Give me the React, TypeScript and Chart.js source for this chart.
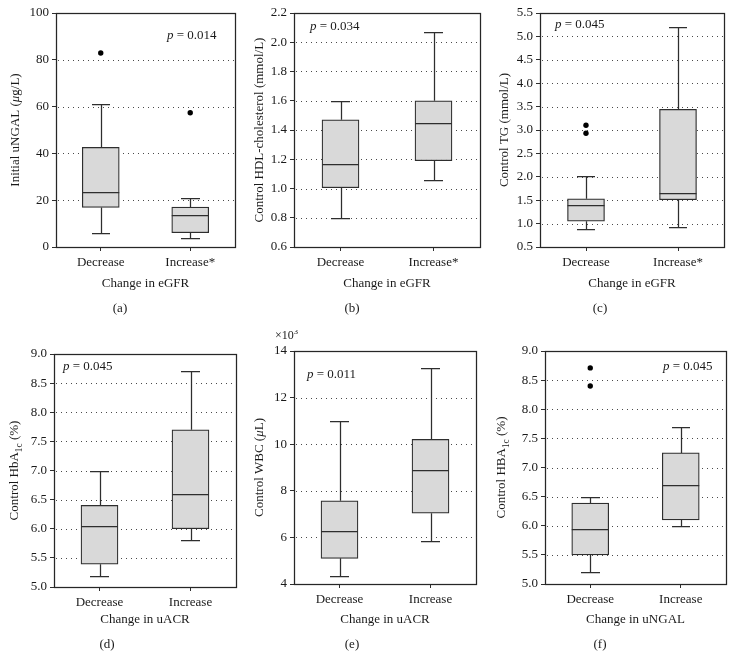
import React, { useEffect, useRef } from 'react';
import { Chart, registerables } from 'chart.js';

Chart.register(...registerables);

const FONT = "'Liberation Serif', 'Times New Roman', Times, serif";

// ---------- categories ----------
const eGFRGroups = ['Decrease', 'Increase*'];
const uACRGroups = ['Decrease', 'Increase'];
const uNGALGroups = ['Decrease', 'Increase'];

// ---------- (a) Initial uNGAL by change in eGFR ----------
const aLow = [6.0, 3.9];
const aQ1 = [16.9, 6.1];
const aMedian = [23.3, 13.7];
const aQ3 = [42.6, 17.1];
const aHigh = [61.0, 21.0];
const aOutGroup = ['Decrease', 'Increase*'];
const aOutValue = [82.9, 57.4];
const aAxis = [0, 100, 20];

// ---------- (b) Control HDL-cholesterol by change in eGFR ----------
const bLow = [0.8, 1.06];
const bQ1 = [1.005, 1.19];
const bMedian = [1.166, 1.445];
const bQ3 = [1.47, 1.6];
const bHigh = [1.6, 2.067];
const bOutGroup: string[] = [];
const bOutValue: number[] = [];
const bAxis = [0.6, 2.2, 0.2];

// ---------- (c) Control TG by change in eGFR ----------
const cLow = [0.88, 0.92];
const cQ1 = [1.05, 1.51];
const cMedian = [1.4, 1.65];
const cQ3 = [1.53, 3.44];
const cHigh = [2.02, 5.2];
const cOutGroup = ['Decrease', 'Decrease'];
const cOutValue = [2.93, 3.1];
const cAxis = [0.5, 5.5, 0.5];

// ---------- (d) Control HbA1c by change in uACR ----------
const dLow = [5.19, 5.8];
const dQ1 = [5.39, 6.0];
const dMedian = [6.05, 6.6];
const dQ3 = [6.4, 7.7];
const dHigh = [7.0, 8.7];
const dOutGroup: string[] = [];
const dOutValue: number[] = [];
const dAxis = [5.0, 9.0, 0.5];

// ---------- (e) Control WBC by change in uACR (x10^3) ----------
const eLow = [4.34, 5.85];
const eQ1 = [5.1, 7.04];
const eMedian = [6.29, 8.89];
const eQ3 = [7.57, 10.21];
const eHigh = [10.98, 13.26];
const eOutGroup: string[] = [];
const eOutValue: number[] = [];
const eAxis = [4, 14, 2];

// ---------- (f) Control HBA1c by change in uNGAL ----------
const fLow = [5.2, 6.0];
const fQ1 = [5.5, 6.1];
const fMedian = [5.95, 6.7];
const fQ3 = [6.39, 7.25];
const fHigh = [6.5, 7.7];
const fOutGroup = ['Decrease', 'Decrease'];
const fOutValue = [8.4, 8.71];
const fAxis = [5.0, 9.0, 0.5];

type Seg = { t: string; it?: boolean; sub?: boolean; sup?: boolean };

const panels = [
  {
    key: 'a', groups: eGFRGroups, low: aLow, q1: aQ1, med: aMedian, q3: aQ3, high: aHigh,
    outGroup: aOutGroup, outValue: aOutValue, axis: aAxis, dec: 0,
    yTitle: [{ t: 'Initial uNGAL (' }, { t: 'μ', it: true }, { t: 'g/L)' }] as Seg[],
    xTitle: 'Change in eGFR', tag: '(a)', p: '0.014',
    box: { left: 0, top: 0, w: 245, h: 330 }, area: { l: 56, t: 13, r: 235, b: 247 },
    pPos: { x: 167, y: 36 }, yTitleX: 16, xTitleY: 284, tagX: 120, tagY: 309,
  },
  {
    key: 'b', groups: eGFRGroups, low: bLow, q1: bQ1, med: bMedian, q3: bQ3, high: bHigh,
    outGroup: bOutGroup, outValue: bOutValue, axis: bAxis, dec: 1,
    yTitle: [{ t: 'Control HDL-cholesterol (mmol/L)' }] as Seg[],
    xTitle: 'Change in eGFR', tag: '(b)', p: '0.034',
    box: { left: 245, top: 0, w: 245, h: 330 }, area: { l: 49, t: 13, r: 235, b: 247 },
    pPos: { x: 65, y: 27 }, yTitleX: 15, xTitleY: 284, tagX: 107, tagY: 309,
  },
  {
    key: 'c', groups: eGFRGroups, low: cLow, q1: cQ1, med: cMedian, q3: cQ3, high: cHigh,
    outGroup: cOutGroup, outValue: cOutValue, axis: cAxis, dec: 1,
    yTitle: [{ t: 'Control TG (mmol/L)' }] as Seg[],
    xTitle: 'Change in eGFR', tag: '(c)', p: '0.045',
    box: { left: 490, top: 0, w: 245, h: 330 }, area: { l: 50, t: 13, r: 234, b: 247 },
    pPos: { x: 65, y: 25 }, yTitleX: 15, xTitleY: 284, tagX: 110, tagY: 309,
  },
  {
    key: 'd', groups: uACRGroups, low: dLow, q1: dQ1, med: dMedian, q3: dQ3, high: dHigh,
    outGroup: dOutGroup, outValue: dOutValue, axis: dAxis, dec: 1,
    yTitle: [{ t: 'Control HbA' }, { t: '1c', sub: true }, { t: ' (%)' }] as Seg[],
    xTitle: 'Change in uACR', tag: '(d)', p: '0.045',
    box: { left: 0, top: 330, w: 245, h: 341 }, area: { l: 54, t: 24, r: 236, b: 257 },
    pPos: { x: 63, y: 37 }, yTitleX: 15, xTitleY: 290, tagX: 107, tagY: 315,
  },
  {
    key: 'e', groups: uACRGroups, low: eLow, q1: eQ1, med: eMedian, q3: eQ3, high: eHigh,
    outGroup: eOutGroup, outValue: eOutValue, axis: eAxis, dec: 0,
    yTitle: [{ t: 'Control WBC (' }, { t: 'μ', it: true }, { t: 'L)' }] as Seg[],
    xTitle: 'Change in uACR', tag: '(e)', p: '0.011', exponent: '3',
    box: { left: 245, top: 330, w: 245, h: 341 }, area: { l: 49, t: 21, r: 231, b: 254 },
    pPos: { x: 62, y: 45 }, yTitleX: 15, xTitleY: 290, tagX: 107, tagY: 315,
  },
  {
    key: 'f', groups: uNGALGroups, low: fLow, q1: fQ1, med: fMedian, q3: fQ3, high: fHigh,
    outGroup: fOutGroup, outValue: fOutValue, axis: fAxis, dec: 1,
    yTitle: [{ t: 'Control HBA' }, { t: '1c', sub: true }, { t: ' (%)' }] as Seg[],
    xTitle: 'Change in uNGAL', tag: '(f)', p: '0.045',
    box: { left: 490, top: 330, w: 245, h: 341 }, area: { l: 55, t: 21, r: 236, b: 254 },
    pPos: { x: 173, y: 37 }, yTitleX: 12, xTitleY: 290, tagX: 110, tagY: 315,
  },
];

const TEXT = '#1a1a1a';
const LINE = '#2e2e2e';
const LW = 1.25;

function segFont(s: Seg, size: number) {
  const sz = s.sub || s.sup ? size * 0.72 : size;
  return `${s.it ? 'italic ' : ''}${sz}px ${FONT}`;
}

function drawSegs(ctx: CanvasRenderingContext2D, segs: Seg[], x: number, y: number, size: number, align: 'center' | 'left') {
  let total = 0;
  const widths = segs.map((s) => {
    ctx.font = segFont(s, size);
    const w = ctx.measureText(s.t).width;
    total += w;
    return w;
  });
  let cx = align === 'center' ? x - total / 2 : x;
  ctx.textAlign = 'left';
  ctx.textBaseline = 'middle';
  segs.forEach((s, i) => {
    ctx.font = segFont(s, size);
    const dy = s.sub ? size * 0.32 : s.sup ? -size * 0.38 : 0;
    ctx.fillText(s.t, cx, y + dy);
    cx += widths[i];
  });
}

const px = (v: number) => Math.round(v) + 0.5;

function makePlugin(cfg: any) {
  return {
    id: 'boxdeco',
    beforeDatasetsDraw(chart: any) {
      const { ctx, chartArea: a, scales } = chart;
      const y = scales.y;
      ctx.save();
      // dotted grid lines
      ctx.strokeStyle = '#4a4a4a';
      ctx.lineWidth = 1;
      ctx.setLineDash([1, 4]);
      y.ticks.forEach((t: any) => {
        if (t.value <= y.min + 1e-9 || t.value >= y.max - 1e-9) return;
        const py = px(y.getPixelForValue(t.value));
        ctx.beginPath();
        ctx.moveTo(a.left + 2, py);
        ctx.lineTo(a.right, py);
        ctx.stroke();
      });
      ctx.setLineDash([]);
      // whiskers
      const meta = chart.getDatasetMeta(0);
      ctx.strokeStyle = LINE;
      ctx.lineWidth = LW;
      meta.data.forEach((bar: any, i: number) => {
        const cx = px(bar.x);
        const half = bar.width / 4;
        const yHigh = px(y.getPixelForValue(cfg.high[i]));
        const yQ3 = y.getPixelForValue(cfg.q3[i]);
        const yLow = px(y.getPixelForValue(cfg.low[i]));
        const yQ1 = y.getPixelForValue(cfg.q1[i]);
        ctx.beginPath();
        ctx.moveTo(cx, yQ3);
        ctx.lineTo(cx, yHigh);
        ctx.moveTo(Math.round(bar.x - half), yHigh);
        ctx.lineTo(Math.round(bar.x + half), yHigh);
        ctx.moveTo(cx, yQ1);
        ctx.lineTo(cx, yLow);
        ctx.moveTo(Math.round(bar.x - half), yLow);
        ctx.lineTo(Math.round(bar.x + half), yLow);
        ctx.stroke();
      });
      ctx.restore();
    },
    afterDatasetsDraw(chart: any) {
      const { ctx, chartArea: a, scales } = chart;
      const y = scales.y;
      ctx.save();
      ctx.strokeStyle = LINE;
      ctx.lineWidth = LW;
      const meta = chart.getDatasetMeta(0);
      meta.data.forEach((bar: any, i: number) => {
        const ym = px(y.getPixelForValue(cfg.med[i]));
        ctx.beginPath();
        ctx.moveTo(bar.x - bar.width / 2, ym);
        ctx.lineTo(bar.x + bar.width / 2, ym);
        ctx.stroke();
      });
      // frame
      ctx.strokeStyle = '#262626';
      const l = px(a.left), t = px(a.top), r = px(a.right), b = px(a.bottom);
      ctx.strokeRect(l, t, r - l, b - t);
      ctx.restore();
    },
    afterDraw(chart: any) {
      const { ctx, chartArea: a } = chart;
      ctx.save();
      ctx.fillStyle = TEXT;
      // y title
      ctx.save();
      ctx.translate(cfg.yTitleX, (a.top + a.bottom) / 2);
      ctx.rotate(-Math.PI / 2);
      drawSegs(ctx, cfg.yTitle, 0, 0, 13, 'center');
      ctx.restore();
      // x title
      drawSegs(ctx, [{ t: cfg.xTitle }], (a.left + a.right) / 2, cfg.xTitleY, 13, 'center');
      // panel tag
      drawSegs(ctx, [{ t: cfg.tag }], cfg.tagX, cfg.tagY, 13, 'center');
      // p-value
      drawSegs(ctx, [{ t: 'p', it: true }, { t: ' = ' + cfg.p }], cfg.pPos.x, cfg.pPos.y, 13, 'left');
      // exponent
      if (cfg.exponent) {
        drawSegs(ctx, [{ t: '×10' }, { t: cfg.exponent, sup: true }], 30, 6, 12, 'left');
      }
      ctx.restore();
    },
  };
}

function Panel({ cfg }: { cfg: any }) {
  const ref = useRef<HTMLCanvasElement>(null);
  useEffect(() => {
    const canvas = ref.current;
    if (!canvas) return;
    const { box, area } = cfg;
    const chart = new Chart(canvas, {
      type: 'bar',
      data: {
        labels: cfg.groups,
        datasets: [
          {
            type: 'bar',
            data: cfg.q1.map((v: number, i: number) => [v, cfg.q3[i]]),
            backgroundColor: '#d9d9d9',
            borderColor: LINE,
            borderWidth: LW,
            borderSkipped: false,
            barThickness: 37,
            order: 2,
          } as any,
          {
            type: 'line',
            data: cfg.outGroup.map((g: string, i: number) => ({ x: g, y: cfg.outValue[i] })),
            showLine: false,
            pointRadius: 2.7,
            pointBackgroundColor: '#000',
            pointBorderColor: '#000',
            pointBorderWidth: 0,
            order: 1,
          } as any,
        ],
      },
      options: {
        responsive: false,
        animation: false,
        events: [],
        layout: { padding: { left: 0, top: area.t, right: box.w - area.r, bottom: 0 } },
        plugins: { legend: { display: false }, tooltip: { enabled: false } },
        scales: {
          x: {
            type: 'category',
            offset: true,
            grid: { display: true, offset: false, drawOnChartArea: false, drawTicks: true, tickLength: 4, color: LINE, tickColor: LINE, tickWidth: 1 },
            border: { display: false },
            ticks: { font: { family: FONT, size: 13 }, color: TEXT, padding: 4, maxRotation: 0, autoSkip: false },
            afterFit: (s: any) => { s.height = box.h - area.b; },
          },
          y: {
            type: 'linear',
            min: cfg.axis[0],
            max: cfg.axis[1],
            grid: { display: true, drawOnChartArea: false, drawTicks: true, tickLength: 4, color: LINE, tickColor: LINE, tickWidth: 1 },
            border: { display: false },
            ticks: {
              stepSize: cfg.axis[2],
              font: { family: FONT, size: 13 },
              color: TEXT,
              padding: 3,
              callback: (v: any) => Number(v).toFixed(cfg.dec),
            },
            afterFit: (s: any) => { s.width = area.l; },
          },
        },
      } as any,
      plugins: [makePlugin(cfg)],
    });
    return () => chart.destroy();
  }, [cfg]);
  return (
    <canvas
      ref={ref}
      width={cfg.box.w}
      height={cfg.box.h}
      style={{ position: 'absolute', left: cfg.box.left, top: cfg.box.top, width: cfg.box.w, height: cfg.box.h }}
    />
  );
}

export default function App() {
  return (
    <div style={{ position: 'absolute', left: 0, top: 0, width: 735, height: 671, background: '#fff', overflow: 'hidden' }}>
      {panels.map((p) => (
        <Panel key={p.key} cfg={p} />
      ))}
    </div>
  );
}
